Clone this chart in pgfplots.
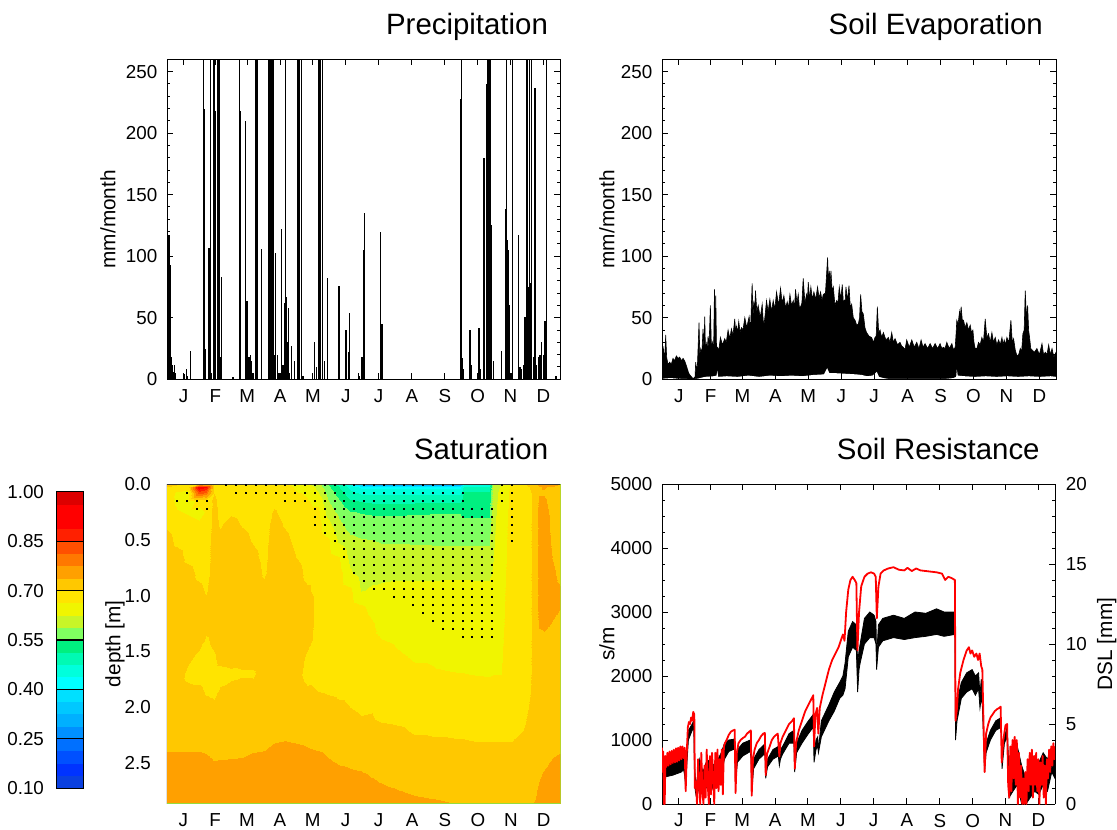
\documentclass[border=0pt]{standalone}
\usepackage{fontspec}
\setmainfont{Liberation Sans}
\usepackage{pgfplots}
\pgfplotsset{compat=1.18}

\newcommand\ticksize{\fontsize{9.4}{11}\selectfont}
\newcommand\labsize{\fontsize{10.4}{12}\selectfont}
\newcommand\titlesize{\fontsize{14.7}{17}\selectfont}

\pgfplotsset{
  colormap={satmap}{
    rgb255=(10,64,224) rgb255=(0,51,255) rgb255=(0,80,255) rgb255=(0,112,255)
    rgb255=(0,144,255) rgb255=(0,176,255) rgb255=(0,200,255) rgb255=(0,224,255)
    rgb255=(0,255,255) rgb255=(0,255,220) rgb255=(0,250,180) rgb255=(0,240,128)
    rgb255=(128,255,96) rgb255=(200,245,40) rgb255=(240,245,0) rgb255=(255,228,0)
    rgb255=(255,200,0) rgb255=(255,160,0) rgb255=(255,120,0) rgb255=(255,80,0)
    rgb255=(255,32,0) rgb255=(255,0,0) rgb255=(255,0,0) rgb255=(221,0,0)},
  panel/.style={
    scale only axis,
    xmin=0, xmax=365,
    xtick={15.5,45,74.5,105,135.5,166,196.5,227.5,258,288.5,319,349.5},
    xticklabels={J,F,M,A,M,J,J,A,S,O,N,D},
    tick align=inside,
    major tick length=3pt,
    minor tick length=1.7pt,
    tick style={black, line width=0.5pt},
    axis line style={black, line width=0.5pt},
    tick label style={font=\ticksize},
    xticklabel style={inner sep=0.5pt, yshift=-4.3pt},
    yticklabel style={xshift=-1.3pt},
    /pgf/number format/assume math mode=true,
    /pgf/number format/1000 sep={},
  },
  ylab/.style={every axis y label/.style={at={(axis description cs:0,0.5)}, xshift=-#1, rotate=90, anchor=center, font=\labsize}},
  ttl/.style={every axis title/.style={at={(axis description cs:1,1)}, anchor=base east, inner sep=0pt, xshift=-#1, yshift=12.2pt, font=\titlesize}},
}

\begin{document}
\begin{tikzpicture}
\useasboundingbox (0,0) rectangle (558.5pt,414.5pt);

% ---------------- Precipitation ----------------
\begin{axis}[panel, at={(83.5pt,224.85pt)}, anchor=south west,
  width=196.5pt, height=160pt,
  ymin=0, ymax=260, ytick={0,50,...,250}, minor y tick num=4,
  ylabel={mm/month}, ylab=29.5pt,
  title={Precipitation}, ttl=5.85pt, axis on top]
\addplot[ycomb, black, line width=0.65pt] coordinates {
(0.3,15) (0.9,18) (1.9,117) (2.8,20) (3.4,93) (4.3,18) (5.3,12) (6.2,6) (7.1,12) (8.1,5)
(15.8,4) (18,8) (19.2,3) (22,23) (34.1,300) (34.7,220) (35.9,25) (38.4,66) (39,107)
(40.3,300) (41.2,5) (43.4,300) (44.3,300) (45.2,218) (46.8,300) (47.4,300) (48.3,300)
(49.6,18) (50.8,83) (61.4,2) (67.2,300) (68.2,218) (72.8,210) (73.4,15) (74.4,64)
(76.2,18) (77.5,20) (78.7,15) (80,5) (82.1,300) (83.1,300) (83.7,300) (87.7,106)
(94.8,300) (95.8,300) (96.7,300) (97.6,300) (98.5,300) (99.2,127) (100.4,20) (101,103)
(102.3,20) (104.1,5) (106.3,122) (107.8,12) (109.1,62) (110.3,300) (111.3,67) (112.2,30)
(113.1,58) (114,5) (115.6,27) (118.7,15) (120.9,300) (121.8,300) (122.7,300) (125.2,300)
(126.4,3) (137.3,30) (138.8,10) (141.3,300) (142.5,300) (144.1,300) (146,15) (149.1,82)
(159.6,76) (165.5,40) (166.7,40) (168.3,22) (169.8,54) (177.6,5) (179.1,3) (181,18)
(182.2,105) (183.5,135) (198.3,120) (199.6,45) (227,3) (258,3) (272.7,228) (273.6,300)
(274.3,17) (275.2,8) (281.4,40) (282.3,12) (289.8,42) (290.7,8) (294.4,180) (296.9,240)
(297.8,300) (298.7,300) (299.7,300) (300.6,300) (301.5,125) (303.1,15) (310.8,23)
(314.5,138) (315.1,300) (316,113) (317,105) (317.9,60) (320.1,5) (321,300) (326.3,117)
(327.8,10) (329.4,8) (330.9,12) (332.5,51) (334.1,300) (335,300) (336,75) (336.9,300)
(337.8,78) (338.7,300) (340.2,18) (341.8,237) (343.4,12) (344.9,18) (346.5,20) (348,30)
(349.6,20) (351.1,47) (352.7,300) (361.3,3)
};
\end{axis}

% ---------------- Soil evaporation ----------------
\begin{axis}[panel, at={(331pt,224.85pt)}, anchor=south west,
  width=197pt, height=160pt,
  ymin=0, ymax=260, ytick={0,50,...,250}, minor y tick num=4,
  ylabel={mm/month}, ylab=27.5pt,
  title={Soil Evaporation}, ttl=6.4pt, axis on top]
\addplot[black, fill=black, line width=0.3pt] coordinates {
(0,30) (0.9,22) (1.5,25) (2.5,14) (3.4,36) (4.3,18) (5.5,12) (7.1,14) (8.5,12) (10.2,17)
(11.5,15) (13.3,19) (15,17) (16.4,18) (18,15) (19.5,17) (21,15) (22.6,11) (24.7,5) (26.3,3)
(28.8,0.5) (30.6,2) (31.2,14) (32,8) (32.8,11) (34.3,46) (35,20) (35.9,25) (37,22) (38,41)
(38.8,25) (39.6,51) (40.3,22) (41.1,29) (42,24) (42.7,35) (43.5,25) (44.8,60) (45.8,24)
(46.7,30) (47.8,24) (48.6,73) (49.2,30) (49.8,68) (50.5,25) (51.3,26) (52.7,24) (54.1,34)
(56,28) (58.1,33) (59.5,30) (61.2,40) (62.8,33) (64.3,41) (65.8,36) (67.4,49) (68.2,38)
(69,43) (70,38) (71.1,47) (72.3,38) (73.6,42) (75,40) (76.7,50) (78.5,42) (80.7,51) (82,40)
(83.5,78) (84.3,50) (85.1,64) (85.8,52) (86.6,72) (87.8,55) (89.1,60) (91,50) (92.8,61)
(93.7,48) (94.6,45) (95.5,52) (96.8,64) (98.3,55) (99.9,65) (101.5,55) (103,64) (104.5,57)
(106.1,71) (108,60) (109.8,74) (111.3,62) (112.9,68) (114.5,58) (116,63) (117.2,58)
(118.5,69) (120,60) (121.6,64) (122.7,58) (123.7,73) (125,62) (126.2,69) (127.3,58)
(128.4,59) (129.6,62) (130.8,82) (132.4,62) (133.9,69) (134.7,64) (135.5,79) (136.7,65)
(137.9,75) (139.3,65) (140.7,71) (142.4,65) (144.1,75) (145.5,66) (146.9,71) (148.2,64)
(149.4,69) (151.4,70) (153.4,99) (154.2,80) (155,88) (155.7,78) (156.5,88) (157.6,72)
(158.7,75) (160.2,60) (161.8,64) (163,62) (164.2,75) (165.6,65) (167,77) (168,62) (168.9,64)
(169.6,62) (170.4,75) (171.8,64) (173.2,76) (174.5,58) (175.7,61) (177.2,50) (178.8,48)
(180.3,44) (181.9,45) (183,50) (184,69) (185.2,55) (186.5,53) (188,42) (189.5,38)
(191.8,35) (194.2,34) (195.8,30) (197.3,34) (198.4,35) (199.5,59) (200.7,38) (202,40)
(203.5,34) (205.1,38) (207.4,32) (209.7,34) (211.2,30) (212.8,38) (214.3,30) (215.9,33)
(218.2,28) (220.5,30) (222,27) (223.6,26) (225.1,24) (226.7,32) (229,26) (231.4,32)
(233.7,26) (236,30) (238,25) (240,32) (241.8,26) (243.7,29) (246,25) (248.4,29) (250.7,25)
(253,29) (255.3,25) (257.6,29) (259.2,25) (260.7,26) (262.2,25) (263.8,30) (266.1,25)
(268.5,29) (270,24) (271.6,26) (272.3,35) (273.1,48) (274.3,45) (275.6,55) (276.3,50)
(277.1,59) (278.2,48) (279.3,48) (280.8,42) (282.4,46) (283.9,40) (285.5,44) (286.7,38)
(288,40) (289,30) (290.1,25) (291.7,25) (293.2,30) (294.7,28) (296.3,34) (297.8,30)
(299.4,49) (300.9,34) (302.5,37) (304,30) (305.6,38) (307.1,30) (308.7,34) (310.2,28)
(311.8,32) (313.3,28) (314.9,34) (316,28) (317,32) (318.2,28) (319.5,34) (321.3,30)
(323.2,48) (324.5,30) (325.7,33) (327.2,24) (328.8,19) (330.4,20) (331.9,25) (333.1,22)
(334.3,37) (335.5,40) (336.5,72) (337.6,50) (338.7,60) (339.6,40) (340.5,34) (341.6,25)
(342.7,24) (345,22) (347.3,25) (349.6,20) (352,29) (353.5,20) (355.1,22) (356.6,20)
(358.2,28) (359.7,20) (361.3,25) (363,18) (365,22)
} \closedcycle;
\addplot[draw=none, fill=white] coordinates {
(0,0.5) (8,1) (15,0.5) (22,0.3) (28,0) (33,0.5) (40,2) (48,2.5) (50.5,3) (51.3,7) (52,2)
(60,2.5) (70,2) (80,3) (90,2) (100,3) (110,2.5) (120,3) (130,2.5) (140,3.5) (150,4) (153,9)
(155,5) (160,5) (170,4.5) (180,4) (185,3.5) (190,2.5) (195,3) (199,6) (201,2) (205,1)
(210,0.3) (240,0.3) (262,0.3) (270,1) (272.5,2) (273.1,8) (274,3) (280,2.5) (290,2)
(300,2.5) (310,2) (320,2.5) (330,2) (340,2.5) (350,2) (360,2.5) (365,2)
} \closedcycle;
\end{axis}

% ---------------- Saturation ----------------
\begin{axis}[panel, at={(83.25pt,12.75pt)}, anchor=south west,
  width=197pt, height=159.75pt,
  ymin=0, ymax=2.86, y dir=reverse, ytick={0,0.5,1,1.5,2,2.5},
  yticklabel style={xshift=-3pt, /pgf/number format/.cd, fixed, fixed zerofill, precision=1},
  major tick length=0pt, axis line style={draw=none},
  ylabel={depth [m]}, ylab=25.8pt,
  title={Saturation}, ttl=6pt,
  colormap name=satmap, colormap access=piecewise constant,
  point meta min=0.1, point meta max=1.0]
\addplot[surf, shader=interp, mesh/ordering=y varies, point meta=explicit] coordinates {
(0,0)[0.72] (0,0.03)[0.70] (0,0.08)[0.685] (0,0.15)[0.68] (0,0.25)[0.685] (0,0.35)[0.69] (0,0.5)[0.715] (0,0.65)[0.72] (0,0.8)[0.72] (0,0.95)[0.72] (0,1.1)[0.72] (0,1.25)[0.72] (0,1.4)[0.72] (0,1.55)[0.72] (0,1.7)[0.72] (0,1.85)[0.72] (0,2.0)[0.72] (0,2.15)[0.72] (0,2.3)[0.7255] (0,2.45)[0.7455] (0,2.6)[0.758] (0,2.86)[0.76]

(10,0)[0.71] (10,0.03)[0.68] (10,0.08)[0.655] (10,0.15)[0.655] (10,0.25)[0.665] (10,0.35)[0.675] (10,0.5)[0.69] (10,0.65)[0.715] (10,0.8)[0.72] (10,0.95)[0.72] (10,1.1)[0.72] (10,1.25)[0.72] (10,1.4)[0.72] (10,1.55)[0.72] (10,1.7)[0.72] (10,1.85)[0.72] (10,2.0)[0.72] (10,2.15)[0.72] (10,2.3)[0.7255] (10,2.45)[0.7455] (10,2.6)[0.758] (10,2.86)[0.76]

(20,0)[0.70] (20,0.03)[0.68] (20,0.08)[0.65] (20,0.15)[0.65] (20,0.25)[0.66] (20,0.35)[0.67] (20,0.5)[0.68] (20,0.65)[0.69] (20,0.8)[0.715] (20,0.95)[0.72] (20,1.1)[0.72] (20,1.25)[0.72] (20,1.4)[0.72] (20,1.55)[0.71] (20,1.7)[0.69] (20,1.85)[0.71] (20,2.0)[0.72] (20,2.15)[0.72] (20,2.3)[0.7255] (20,2.45)[0.7455] (20,2.6)[0.758] (20,2.86)[0.76]

(30,0)[0.71] (30,0.03)[0.92] (30,0.08)[0.83] (30,0.15)[0.67] (30,0.25)[0.655] (30,0.35)[0.665] (30,0.5)[0.675] (30,0.65)[0.68] (30,0.8)[0.69] (30,0.95)[0.71] (30,1.1)[0.72] (30,1.25)[0.72] (30,1.4)[0.715] (30,1.55)[0.69] (30,1.7)[0.685] (30,1.85)[0.71] (30,2.0)[0.72] (30,2.15)[0.72] (30,2.3)[0.725] (30,2.45)[0.745] (30,2.6)[0.758] (30,2.86)[0.76]

(37,0)[0.70] (37,0.03)[0.89] (37,0.08)[0.80] (37,0.15)[0.68] (37,0.25)[0.665] (37,0.35)[0.67] (37,0.5)[0.675] (37,0.65)[0.68] (37,0.8)[0.685] (37,0.95)[0.695] (37,1.1)[0.715] (37,1.25)[0.715] (37,1.4)[0.695] (37,1.55)[0.685] (37,1.7)[0.68] (37,1.85)[0.695] (37,2.0)[0.715] (37,2.15)[0.72] (37,2.3)[0.725] (37,2.45)[0.742] (37,2.6)[0.755] (37,2.86)[0.76]

(44,0)[0.69] (44,0.03)[0.70] (44,0.08)[0.70] (44,0.15)[0.71] (44,0.25)[0.715] (44,0.35)[0.715] (44,0.5)[0.72] (44,0.65)[0.72] (44,0.8)[0.72] (44,0.95)[0.72] (44,1.1)[0.72] (44,1.25)[0.72] (44,1.4)[0.71] (44,1.55)[0.695] (44,1.7)[0.685] (44,1.85)[0.69] (44,2.0)[0.71] (44,2.15)[0.72] (44,2.3)[0.72] (44,2.45)[0.735] (44,2.6)[0.75] (44,2.86)[0.758]

(50,0)[0.69] (50,0.03)[0.685] (50,0.08)[0.68] (50,0.15)[0.685] (50,0.25)[0.69] (50,0.35)[0.695] (50,0.5)[0.71] (50,0.65)[0.72] (50,0.8)[0.72] (50,0.95)[0.72] (50,1.1)[0.72] (50,1.25)[0.72] (50,1.4)[0.72] (50,1.55)[0.715] (50,1.7)[0.685] (50,1.85)[0.705] (50,2.0)[0.72] (50,2.15)[0.72] (50,2.3)[0.72] (50,2.45)[0.736] (50,2.6)[0.75] (50,2.86)[0.758]

(60,0)[0.69] (60,0.03)[0.685] (60,0.08)[0.685] (60,0.15)[0.69] (60,0.25)[0.695] (60,0.35)[0.71] (60,0.5)[0.72] (60,0.65)[0.72] (60,0.8)[0.72] (60,0.95)[0.72] (60,1.1)[0.72] (60,1.25)[0.72] (60,1.4)[0.72] (60,1.55)[0.72] (60,1.7)[0.69] (60,1.85)[0.715] (60,2.0)[0.72] (60,2.15)[0.72] (60,2.3)[0.72] (60,2.45)[0.737] (60,2.6)[0.75] (60,2.86)[0.758]

(70,0)[0.69] (70,0.03)[0.68] (70,0.08)[0.68] (70,0.15)[0.685] (70,0.25)[0.69] (70,0.35)[0.697] (70,0.5)[0.71] (70,0.65)[0.72] (70,0.8)[0.72] (70,0.95)[0.72] (70,1.1)[0.72] (70,1.25)[0.72] (70,1.4)[0.72] (70,1.55)[0.715] (70,1.7)[0.695] (70,1.85)[0.72] (70,2.0)[0.72] (70,2.15)[0.72] (70,2.3)[0.72] (70,2.45)[0.738] (70,2.6)[0.752] (70,2.86)[0.758]

(80,0)[0.685] (80,0.03)[0.68] (80,0.08)[0.675] (80,0.15)[0.68] (80,0.25)[0.685] (80,0.35)[0.69] (80,0.5)[0.697] (80,0.65)[0.71] (80,0.8)[0.72] (80,0.95)[0.72] (80,1.1)[0.72] (80,1.25)[0.72] (80,1.4)[0.72] (80,1.55)[0.715] (80,1.7)[0.695] (80,1.85)[0.715] (80,2.0)[0.72] (80,2.15)[0.72] (80,2.3)[0.724] (80,2.45)[0.744] (80,2.6)[0.756] (80,2.86)[0.76]

(90,0)[0.685] (90,0.03)[0.675] (90,0.08)[0.67] (90,0.15)[0.675] (90,0.25)[0.68] (90,0.35)[0.68] (90,0.5)[0.685] (90,0.65)[0.69] (90,0.8)[0.695] (90,0.95)[0.71] (90,1.1)[0.72] (90,1.25)[0.72] (90,1.4)[0.72] (90,1.55)[0.72] (90,1.7)[0.72] (90,1.85)[0.72] (90,2.0)[0.72] (90,2.15)[0.72] (90,2.3)[0.726] (90,2.45)[0.746] (90,2.6)[0.758] (90,2.86)[0.76]

(100,0)[0.685] (100,0.03)[0.68] (100,0.08)[0.68] (100,0.15)[0.69] (100,0.25)[0.705] (100,0.35)[0.715] (100,0.5)[0.72] (100,0.65)[0.72] (100,0.8)[0.72] (100,0.95)[0.72] (100,1.1)[0.72] (100,1.25)[0.72] (100,1.4)[0.72] (100,1.55)[0.72] (100,1.7)[0.72] (100,1.85)[0.72] (100,2.0)[0.72] (100,2.15)[0.72] (100,2.3)[0.735] (100,2.45)[0.755] (100,2.6)[0.76] (100,2.86)[0.76]

(110,0)[0.67] (110,0.03)[0.67] (110,0.08)[0.675] (110,0.15)[0.68] (110,0.25)[0.685] (110,0.35)[0.695] (110,0.5)[0.71] (110,0.65)[0.72] (110,0.8)[0.72] (110,0.95)[0.72] (110,1.1)[0.72] (110,1.25)[0.72] (110,1.4)[0.72] (110,1.55)[0.72] (110,1.7)[0.72] (110,1.85)[0.72] (110,2.0)[0.72] (110,2.15)[0.722] (110,2.3)[0.738] (110,2.45)[0.757] (110,2.6)[0.76] (110,2.86)[0.76]

(120,0)[0.655] (120,0.03)[0.66] (120,0.08)[0.665] (120,0.15)[0.67] (120,0.25)[0.675] (120,0.35)[0.68] (120,0.5)[0.69] (120,0.65)[0.70] (120,0.8)[0.715] (120,0.95)[0.72] (120,1.1)[0.72] (120,1.25)[0.72] (120,1.4)[0.72] (120,1.55)[0.72] (120,1.7)[0.712] (120,1.85)[0.72] (120,2.0)[0.72] (120,2.15)[0.721] (120,2.3)[0.735] (120,2.45)[0.755] (120,2.6)[0.76] (120,2.86)[0.76]

(130,0)[0.638] (130,0.03)[0.65] (130,0.08)[0.66] (130,0.15)[0.665] (130,0.25)[0.67] (130,0.35)[0.675] (130,0.5)[0.68] (130,0.65)[0.685] (130,0.8)[0.69] (130,0.95)[0.705] (130,1.1)[0.715] (130,1.25)[0.715] (130,1.4)[0.71] (130,1.55)[0.695] (130,1.7)[0.69] (130,1.85)[0.705] (130,2.0)[0.72] (130,2.15)[0.722] (130,2.3)[0.732] (130,2.45)[0.748] (130,2.6)[0.758] (130,2.86)[0.76]

(140,0)[0.60] (140,0.03)[0.615] (140,0.08)[0.628] (140,0.15)[0.655] (140,0.25)[0.67] (140,0.35)[0.675] (140,0.5)[0.68] (140,0.65)[0.685] (140,0.8)[0.69] (140,0.95)[0.69] (140,1.1)[0.69] (140,1.25)[0.69] (140,1.4)[0.69] (140,1.55)[0.69] (140,1.7)[0.692] (140,1.85)[0.70] (140,2.0)[0.715] (140,2.15)[0.72] (140,2.3)[0.728] (140,2.45)[0.745] (140,2.6)[0.757] (140,2.86)[0.76]

(150,0)[0.548] (150,0.03)[0.56] (150,0.08)[0.575] (150,0.15)[0.59] (150,0.25)[0.61] (150,0.35)[0.635] (150,0.5)[0.668] (150,0.65)[0.675] (150,0.8)[0.68] (150,0.95)[0.685] (150,1.1)[0.69] (150,1.25)[0.69] (150,1.4)[0.69] (150,1.55)[0.69] (150,1.7)[0.693] (150,1.85)[0.697] (150,2.0)[0.71] (150,2.15)[0.72] (150,2.3)[0.725] (150,2.45)[0.738] (150,2.6)[0.75] (150,2.86)[0.758]

(160,0)[0.50] (160,0.03)[0.513] (160,0.08)[0.535] (160,0.15)[0.555] (160,0.25)[0.578] (160,0.35)[0.595] (160,0.5)[0.618] (160,0.65)[0.663] (160,0.8)[0.675] (160,0.95)[0.68] (160,1.1)[0.685] (160,1.25)[0.688] (160,1.4)[0.69] (160,1.55)[0.69] (160,1.7)[0.692] (160,1.85)[0.695] (160,2.0)[0.704] (160,2.15)[0.715] (160,2.3)[0.72] (160,2.45)[0.732] (160,2.6)[0.745] (160,2.86)[0.757]

(170,0)[0.45] (170,0.03)[0.465] (170,0.08)[0.49] (170,0.15)[0.52] (170,0.25)[0.553] (170,0.35)[0.57] (170,0.5)[0.597] (170,0.65)[0.615] (170,0.8)[0.63] (170,0.95)[0.67] (170,1.1)[0.68] (170,1.25)[0.685] (170,1.4)[0.688] (170,1.55)[0.69] (170,1.7)[0.692] (170,1.85)[0.695] (170,2.0)[0.70] (170,2.15)[0.707] (170,2.3)[0.715] (170,2.45)[0.73] (170,2.6)[0.742] (170,2.86)[0.752]

(180,0)[0.33] (180,0.03)[0.43] (180,0.08)[0.47] (180,0.15)[0.51] (180,0.25)[0.548] (180,0.35)[0.565] (180,0.5)[0.59] (180,0.65)[0.603] (180,0.8)[0.612] (180,0.95)[0.622] (180,1.1)[0.668] (180,1.25)[0.675] (180,1.4)[0.68] (180,1.55)[0.685] (180,1.7)[0.69] (180,1.85)[0.693] (180,2.0)[0.697] (180,2.15)[0.703] (180,2.3)[0.71] (180,2.45)[0.727] (180,2.6)[0.74] (180,2.86)[0.75]

(190,0)[0.24] (190,0.03)[0.43] (190,0.08)[0.47] (190,0.15)[0.505] (190,0.25)[0.545] (190,0.35)[0.563] (190,0.5)[0.588] (190,0.65)[0.60] (190,0.8)[0.615] (190,0.95)[0.63] (190,1.1)[0.655] (190,1.25)[0.665] (190,1.4)[0.668] (190,1.55)[0.675] (190,1.7)[0.68] (190,1.85)[0.685] (190,2.0)[0.698] (190,2.15)[0.704] (190,2.3)[0.708] (190,2.45)[0.722] (190,2.6)[0.736] (190,2.86)[0.75]

(200,0)[0.24] (200,0.03)[0.43] (200,0.08)[0.47] (200,0.15)[0.505] (200,0.25)[0.545] (200,0.35)[0.562] (200,0.5)[0.585] (200,0.65)[0.598] (200,0.8)[0.615] (200,0.95)[0.633] (200,1.1)[0.645] (200,1.25)[0.655] (200,1.4)[0.663] (200,1.55)[0.67] (200,1.7)[0.677] (200,1.85)[0.683] (200,2.0)[0.69] (200,2.15)[0.701] (200,2.3)[0.705] (200,2.45)[0.713] (200,2.6)[0.733] (200,2.86)[0.748]

(210,0)[0.24] (210,0.03)[0.43] (210,0.08)[0.47] (210,0.15)[0.505] (210,0.25)[0.545] (210,0.35)[0.562] (210,0.5)[0.585] (210,0.65)[0.598] (210,0.8)[0.617] (210,0.95)[0.635] (210,1.1)[0.645] (210,1.25)[0.652] (210,1.4)[0.661] (210,1.55)[0.668] (210,1.7)[0.675] (210,1.85)[0.682] (210,2.0)[0.69] (210,2.15)[0.70] (210,2.3)[0.707] (210,2.45)[0.715] (210,2.6)[0.73] (210,2.86)[0.747]

(220,0)[0.24] (220,0.03)[0.43] (220,0.08)[0.47] (220,0.15)[0.505] (220,0.25)[0.545] (220,0.35)[0.562] (220,0.5)[0.585] (220,0.65)[0.598] (220,0.8)[0.618] (220,0.95)[0.635] (220,1.1)[0.643] (220,1.25)[0.65] (220,1.4)[0.656] (220,1.55)[0.664] (220,1.7)[0.672] (220,1.85)[0.68] (220,2.0)[0.688] (220,2.15)[0.699] (220,2.3)[0.706] (220,2.45)[0.714] (220,2.6)[0.727] (220,2.86)[0.745]

(230,0)[0.24] (230,0.03)[0.43] (230,0.08)[0.47] (230,0.15)[0.505] (230,0.25)[0.547] (230,0.35)[0.562] (230,0.5)[0.584] (230,0.65)[0.598] (230,0.8)[0.618] (230,0.95)[0.635] (230,1.1)[0.642] (230,1.25)[0.648] (230,1.4)[0.653] (230,1.55)[0.66] (230,1.7)[0.668] (230,1.85)[0.677] (230,2.0)[0.686] (230,2.15)[0.695] (230,2.3)[0.703] (230,2.45)[0.711] (230,2.6)[0.724] (230,2.86)[0.743]

(240,0)[0.24] (240,0.03)[0.43] (240,0.08)[0.47] (240,0.15)[0.505] (240,0.25)[0.547] (240,0.35)[0.562] (240,0.5)[0.584] (240,0.65)[0.598] (240,0.8)[0.618] (240,0.95)[0.635] (240,1.1)[0.642] (240,1.25)[0.648] (240,1.4)[0.653] (240,1.55)[0.66] (240,1.7)[0.668] (240,1.85)[0.677] (240,2.0)[0.686] (240,2.15)[0.695] (240,2.3)[0.703] (240,2.45)[0.711] (240,2.6)[0.722] (240,2.86)[0.742]

(250,0)[0.24] (250,0.03)[0.43] (250,0.08)[0.47] (250,0.15)[0.505] (250,0.25)[0.548] (250,0.35)[0.56] (250,0.5)[0.583] (250,0.65)[0.598] (250,0.8)[0.618] (250,0.95)[0.634] (250,1.1)[0.641] (250,1.25)[0.647] (250,1.4)[0.652] (250,1.55)[0.658] (250,1.7)[0.665] (250,1.85)[0.675] (250,2.0)[0.684] (250,2.15)[0.694] (250,2.3)[0.702] (250,2.45)[0.71] (250,2.6)[0.72] (250,2.86)[0.741]

(260,0)[0.24] (260,0.03)[0.43] (260,0.08)[0.47] (260,0.15)[0.505] (260,0.25)[0.548] (260,0.35)[0.56] (260,0.5)[0.583] (260,0.65)[0.598] (260,0.8)[0.619] (260,0.95)[0.634] (260,1.1)[0.641] (260,1.25)[0.647] (260,1.4)[0.652] (260,1.55)[0.657] (260,1.7)[0.664] (260,1.85)[0.674] (260,2.0)[0.684] (260,2.15)[0.694] (260,2.3)[0.702] (260,2.45)[0.71] (260,2.6)[0.72] (260,2.86)[0.739]

(272,0)[0.25] (272,0.03)[0.43] (272,0.08)[0.47] (272,0.15)[0.505] (272,0.25)[0.548] (272,0.35)[0.56] (272,0.5)[0.582] (272,0.65)[0.598] (272,0.8)[0.62] (272,0.95)[0.633] (272,1.1)[0.64] (272,1.25)[0.646] (272,1.4)[0.651] (272,1.55)[0.656] (272,1.7)[0.663] (272,1.85)[0.673] (272,2.0)[0.683] (272,2.15)[0.693] (272,2.3)[0.701] (272,2.45)[0.709] (272,2.6)[0.718] (272,2.86)[0.7375]

(276,0)[0.42] (276,0.03)[0.48] (276,0.08)[0.52] (276,0.15)[0.525] (276,0.25)[0.54] (276,0.35)[0.56] (276,0.5)[0.582] (276,0.65)[0.598] (276,0.8)[0.62] (276,0.95)[0.633] (276,1.1)[0.64] (276,1.25)[0.646] (276,1.4)[0.651] (276,1.55)[0.656] (276,1.7)[0.663] (276,1.85)[0.673] (276,2.0)[0.683] (276,2.15)[0.693] (276,2.3)[0.701] (276,2.45)[0.709] (276,2.6)[0.718] (276,2.86)[0.736]

(285,0)[0.42] (285,0.03)[0.48] (285,0.08)[0.52] (285,0.15)[0.525] (285,0.25)[0.54] (285,0.35)[0.56] (285,0.5)[0.582] (285,0.65)[0.598] (285,0.8)[0.62] (285,0.95)[0.632] (285,1.1)[0.639] (285,1.25)[0.645] (285,1.4)[0.65] (285,1.55)[0.655] (285,1.7)[0.662] (285,1.85)[0.672] (285,2.0)[0.682] (285,2.15)[0.692] (285,2.3)[0.70] (285,2.45)[0.708] (285,2.6)[0.716] (285,2.86)[0.733]

(299,0)[0.42] (299,0.03)[0.48] (299,0.08)[0.52] (299,0.15)[0.525] (299,0.25)[0.54] (299,0.35)[0.56] (299,0.5)[0.582] (299,0.65)[0.598] (299,0.8)[0.62] (299,0.95)[0.632] (299,1.1)[0.639] (299,1.25)[0.645] (299,1.4)[0.65] (299,1.55)[0.655] (299,1.7)[0.661] (299,1.85)[0.671] (299,2.0)[0.681] (299,2.15)[0.691] (299,2.3)[0.70] (299,2.45)[0.708] (299,2.6)[0.716] (299,2.86)[0.733]

(302,0)[0.60] (302,0.03)[0.605] (302,0.08)[0.61] (302,0.15)[0.612] (302,0.25)[0.615] (302,0.35)[0.618] (302,0.5)[0.62] (302,0.65)[0.624] (302,0.8)[0.628] (302,0.95)[0.634] (302,1.1)[0.639] (302,1.25)[0.645] (302,1.4)[0.65] (302,1.55)[0.655] (302,1.7)[0.662] (302,1.85)[0.672] (302,2.0)[0.682] (302,2.15)[0.692] (302,2.3)[0.70] (302,2.45)[0.708] (302,2.6)[0.716] (302,2.86)[0.733]

(310,0)[0.625] (310,0.03)[0.63] (310,0.08)[0.635] (310,0.15)[0.638] (310,0.25)[0.64] (310,0.35)[0.642] (310,0.5)[0.645] (310,0.65)[0.647] (310,0.8)[0.65] (310,0.95)[0.652] (310,1.1)[0.654] (310,1.25)[0.656] (310,1.4)[0.658] (310,1.55)[0.66] (310,1.7)[0.6625] (310,1.85)[0.673] (310,2.0)[0.683] (310,2.15)[0.692] (310,2.3)[0.70] (310,2.45)[0.708] (310,2.6)[0.716] (310,2.86)[0.733]

(320,0)[0.67] (320,0.03)[0.672] (320,0.08)[0.675] (320,0.15)[0.675] (320,0.25)[0.676] (320,0.35)[0.677] (320,0.5)[0.678] (320,0.65)[0.678] (320,0.8)[0.679] (320,0.95)[0.68] (320,1.1)[0.68] (320,1.25)[0.68] (320,1.4)[0.68] (320,1.55)[0.68] (320,1.7)[0.68] (320,1.85)[0.685] (320,2.0)[0.69] (320,2.15)[0.695] (320,2.3)[0.70] (320,2.45)[0.708] (320,2.6)[0.716] (320,2.86)[0.733]

(330,0)[0.68] (330,0.03)[0.685] (330,0.08)[0.685] (330,0.15)[0.685] (330,0.25)[0.685] (330,0.35)[0.685] (330,0.5)[0.685] (330,0.65)[0.685] (330,0.8)[0.685] (330,0.95)[0.685] (330,1.1)[0.685] (330,1.25)[0.685] (330,1.4)[0.685] (330,1.55)[0.685] (330,1.7)[0.685] (330,1.85)[0.688] (330,2.0)[0.692] (330,2.15)[0.697] (330,2.3)[0.705] (330,2.45)[0.712] (330,2.6)[0.72] (330,2.86)[0.735]

(340,0)[0.73] (340,0.03)[0.71] (340,0.08)[0.705] (340,0.15)[0.705] (340,0.25)[0.705] (340,0.35)[0.705] (340,0.5)[0.705] (340,0.65)[0.705] (340,0.8)[0.705] (340,0.95)[0.705] (340,1.1)[0.705] (340,1.25)[0.705] (340,1.4)[0.705] (340,1.55)[0.705] (340,1.7)[0.705] (340,1.85)[0.705] (340,2.0)[0.708] (340,2.15)[0.712] (340,2.3)[0.718] (340,2.45)[0.725] (340,2.6)[0.73] (340,2.86)[0.738]

(345,0)[0.75] (345,0.03)[0.735] (345,0.08)[0.735] (345,0.15)[0.745] (345,0.25)[0.75] (345,0.35)[0.75] (345,0.5)[0.75] (345,0.65)[0.75] (345,0.8)[0.75] (345,0.95)[0.75] (345,1.1)[0.75] (345,1.25)[0.742] (345,1.4)[0.725] (345,1.55)[0.72] (345,1.7)[0.72] (345,1.85)[0.72] (345,2.0)[0.72] (345,2.15)[0.72] (345,2.3)[0.722] (345,2.45)[0.728] (345,2.6)[0.735] (345,2.86)[0.745]

(350,0)[0.78] (350,0.03)[0.74] (350,0.08)[0.735] (350,0.15)[0.742] (350,0.25)[0.748] (350,0.35)[0.75] (350,0.5)[0.75] (350,0.65)[0.752] (350,0.8)[0.755] (350,0.95)[0.755] (350,1.1)[0.752] (350,1.25)[0.745] (350,1.4)[0.73] (350,1.55)[0.722] (350,1.7)[0.722] (350,1.85)[0.722] (350,2.0)[0.722] (350,2.15)[0.722] (350,2.3)[0.724] (350,2.45)[0.73] (350,2.6)[0.74] (350,2.86)[0.752]

(358,0)[0.76] (358,0.03)[0.73] (358,0.08)[0.725] (358,0.15)[0.725] (358,0.25)[0.728] (358,0.35)[0.73] (358,0.5)[0.733] (358,0.65)[0.736] (358,0.8)[0.742] (358,0.95)[0.748] (358,1.1)[0.745] (358,1.25)[0.735] (358,1.4)[0.726] (358,1.55)[0.722] (358,1.7)[0.722] (358,1.85)[0.722] (358,2.0)[0.722] (358,2.15)[0.722] (358,2.3)[0.728] (358,2.45)[0.738] (358,2.6)[0.748] (358,2.86)[0.755]

(365,0)[0.74] (365,0.03)[0.725] (365,0.08)[0.722] (365,0.15)[0.722] (365,0.25)[0.722] (365,0.35)[0.722] (365,0.5)[0.722] (365,0.65)[0.722] (365,0.8)[0.728] (365,0.95)[0.74] (365,1.1)[0.738] (365,1.25)[0.728] (365,1.4)[0.722] (365,1.55)[0.722] (365,1.7)[0.722] (365,1.85)[0.722] (365,2.0)[0.722] (365,2.15)[0.722] (365,2.3)[0.728] (365,2.45)[0.742] (365,2.6)[0.75] (365,2.86)[0.755]
};
% stippled nodes
\addplot[only marks, mark=square*, mark size=0.26pt, black] coordinates {
(55.3,0.008) (64.4,0.008) (73.5,0.008) (82.7,0.008) (91.8,0.008) (100.9,0.008) (110.0,0.008) (119.1,0.008) (128.3,0.008) (137.4,0.008) (146.5,0.008) (155.6,0.008) (164.7,0.008) (173.9,0.008) (183.0,0.008) (192.1,0.008) (201.2,0.008) (210.3,0.008) (219.5,0.008) (228.6,0.008) (237.7,0.008) (246.8,0.008) (255.9,0.008) (265.1,0.008) (310.7,0.008) (319.8,0.008)
(18.8,0.078) (64.4,0.078) (73.5,0.078) (82.7,0.078) (91.8,0.078) (100.9,0.078) (110.0,0.078) (119.1,0.078) (128.3,0.078) (137.4,0.078) (146.5,0.078) (155.6,0.078) (164.7,0.078) (173.9,0.078) (183.0,0.078) (192.1,0.078) (201.2,0.078) (210.3,0.078) (219.5,0.078) (228.6,0.078) (237.7,0.078) (246.8,0.078) (255.9,0.078) (265.1,0.078) (274.2,0.078) (310.7,0.078) (319.8,0.078)
(9.7,0.149) (18.8,0.149) (27.9,0.149) (37.1,0.149) (110.0,0.149) (119.1,0.149) (128.3,0.149) (137.4,0.149) (146.5,0.149) (155.6,0.149) (164.7,0.149) (173.9,0.149) (183.0,0.149) (192.1,0.149) (201.2,0.149) (210.3,0.149) (219.5,0.149) (228.6,0.149) (237.7,0.149) (246.8,0.149) (255.9,0.149) (265.1,0.149) (274.2,0.149) (310.7,0.149) (319.8,0.149)
(27.9,0.221) (37.1,0.221) (137.4,0.221) (146.5,0.221) (155.6,0.221) (164.7,0.221) (173.9,0.221) (183.0,0.221) (192.1,0.221) (201.2,0.221) (210.3,0.221) (219.5,0.221) (228.6,0.221) (237.7,0.221) (246.8,0.221) (255.9,0.221) (265.1,0.221) (274.2,0.221) (283.3,0.221) (292.4,0.221) (301.5,0.221) (319.8,0.221)
(137.4,0.292) (146.5,0.292) (155.6,0.292) (164.7,0.292) (173.9,0.292) (183.0,0.292) (192.1,0.292) (201.2,0.292) (210.3,0.292) (219.5,0.292) (228.6,0.292) (237.7,0.292) (246.8,0.292) (255.9,0.292) (265.1,0.292) (274.2,0.292) (283.3,0.292) (292.4,0.292) (301.5,0.292) (319.8,0.292)
(137.4,0.364) (146.5,0.364) (155.6,0.364) (164.7,0.364) (173.9,0.364) (183.0,0.364) (192.1,0.364) (201.2,0.364) (210.3,0.364) (219.5,0.364) (228.6,0.364) (237.7,0.364) (246.8,0.364) (255.9,0.364) (265.1,0.364) (274.2,0.364) (283.3,0.364) (292.4,0.364) (301.5,0.364) (319.8,0.364)
(146.5,0.436) (155.6,0.436) (164.7,0.436) (173.9,0.436) (183.0,0.436) (192.1,0.436) (201.2,0.436) (210.3,0.436) (219.5,0.436) (228.6,0.436) (237.7,0.436) (246.8,0.436) (255.9,0.436) (265.1,0.436) (274.2,0.436) (283.3,0.436) (292.4,0.436) (301.5,0.436) (319.8,0.436)
(155.6,0.507) (164.7,0.507) (173.9,0.507) (183.0,0.507) (192.1,0.507) (201.2,0.507) (210.3,0.507) (219.5,0.507) (228.6,0.507) (237.7,0.507) (246.8,0.507) (255.9,0.507) (265.1,0.507) (274.2,0.507) (283.3,0.507) (292.4,0.507) (301.5,0.507) (319.8,0.507)
(164.7,0.579) (173.9,0.579) (183.0,0.579) (192.1,0.579) (201.2,0.579) (210.3,0.579) (219.5,0.579) (228.6,0.579) (237.7,0.579) (246.8,0.579) (255.9,0.579) (265.1,0.579) (274.2,0.579) (283.3,0.579) (292.4,0.579) (301.5,0.579)
(164.7,0.650) (173.9,0.650) (183.0,0.650) (192.1,0.650) (201.2,0.650) (210.3,0.650) (219.5,0.650) (228.6,0.650) (237.7,0.650) (246.8,0.650) (255.9,0.650) (265.1,0.650) (274.2,0.650) (283.3,0.650) (292.4,0.650) (301.5,0.650)
(173.9,0.722) (183.0,0.722) (192.1,0.722) (201.2,0.722) (210.3,0.722) (219.5,0.722) (228.6,0.722) (237.7,0.722) (246.8,0.722) (255.9,0.722) (265.1,0.722) (274.2,0.722) (283.3,0.722) (292.4,0.722) (301.5,0.722)
(173.9,0.794) (183.0,0.794) (192.1,0.794) (201.2,0.794) (210.3,0.794) (219.5,0.794) (228.6,0.794) (237.7,0.794) (246.8,0.794) (255.9,0.794) (265.1,0.794) (274.2,0.794) (283.3,0.794) (292.4,0.794) (301.5,0.794)
(183.0,0.865) (192.1,0.865) (201.2,0.865) (210.3,0.865) (219.5,0.865) (228.6,0.865) (237.7,0.865) (246.8,0.865) (255.9,0.865) (265.1,0.865) (274.2,0.865) (283.3,0.865) (292.4,0.865) (301.5,0.865)
(192.1,0.937) (201.2,0.937) (210.3,0.937) (219.5,0.937) (228.6,0.937) (237.7,0.937) (246.8,0.937) (255.9,0.937) (265.1,0.937) (274.2,0.937) (283.3,0.937) (292.4,0.937) (301.5,0.937)
(210.3,1.008) (219.5,1.008) (228.6,1.008) (237.7,1.008) (246.8,1.008) (255.9,1.008) (265.1,1.008) (274.2,1.008) (283.3,1.008) (292.4,1.008) (301.5,1.008)
(228.6,1.080) (237.7,1.080) (246.8,1.080) (255.9,1.080) (265.1,1.080) (274.2,1.080) (283.3,1.080) (292.4,1.080) (301.5,1.080)
(237.7,1.151) (246.8,1.151) (255.9,1.151) (265.1,1.151) (274.2,1.151) (283.3,1.151) (292.4,1.151) (301.5,1.151)
(246.8,1.223) (255.9,1.223) (265.1,1.223) (274.2,1.223) (283.3,1.223) (292.4,1.223) (301.5,1.223)
(255.9,1.295) (265.1,1.295) (274.2,1.295) (283.3,1.295) (292.4,1.295) (301.5,1.295)
(274.2,1.366) (283.3,1.366) (292.4,1.366) (301.5,1.366)
};
\draw[black!80, line width=0.6pt] (axis description cs:0,1) -- (axis description cs:1,1);
\draw[color={rgb,255:red,150;green,220;blue,60}, line width=0.4pt] (axis description cs:1,1) -- (axis description cs:1,0) -- (axis description cs:0,0);
\draw[black!35, line width=0.4pt] (axis description cs:0,0) -- (axis description cs:0,1);
\end{axis}

% ---------------- Colour scale ----------------
\begin{axis}[at={(28.25pt,20.35pt)}, anchor=south west, scale only axis,
  width=13.4pt, height=148.3pt,
  xmin=0, xmax=1, ymin=0.1, ymax=1.0, xtick=\empty,
  ytick={0.10,0.25,0.40,0.55,0.70,0.85,1.00},
  major tick length=0pt,
  tick label style={font=\ticksize},
  yticklabel style={xshift=-2.75pt, /pgf/number format/.cd, fixed, fixed zerofill, precision=2, assume math mode=true},
  ymajorgrids, grid style={black, line width=0.6pt},
  axis line style={black, line width=0.6pt}, axis on top,
  colormap name=satmap, colormap access=piecewise constant,
  point meta min=0.1, point meta max=1.0]
\addplot[surf, shader=interp, mesh/ordering=y varies, point meta=explicit] coordinates {
(0,0.1)[0.1] (0,1.0)[1.0]

(1,0.1)[0.1] (1,1.0)[1.0]
};
\end{axis}

% ---------------- Soil resistance ----------------
\begin{axis}[panel, at={(331pt,12.5pt)}, anchor=south west,
  width=196.5pt, height=160pt,
  ymin=0, ymax=5000, ytick={0,1000,...,5000}, minor y tick num=3,
  axis y line*=left,
  ylabel={s/m}, ylab=27.5pt,
  title={Soil Resistance}, ttl=7.5pt]
\addplot[black, fill=black, line width=0.4pt] coordinates {
(0,650) (1,600) (2,650) (10,700) (18,720) (20,760) (21,780) (22,700) (23,850) (24.5,1150)
(28,1250) (29.5,1300) (30.3,600) (31,400) (32,300) (35,700) (38,500) (41,650) (45,700)
(48,600) (52,700) (55,800) (58,950) (62,1000) (66,1010) (67.5,1020) (68.3,400) (70,850)
(75,950) (82,1000) (82.7,900) (83.3,400) (85,700) (90,850) (95,930) (95.7,900) (96.3,500)
(98,700) (103,850) (108,900) (109,750) (110,850) (112,900) (118,1100) (122.5,1150)
(123.2,600) (125,950) (130,1150) (136,1300) (140.5,1400) (141.2,750) (143,1000)
(144.6,1050) (145.3,850) (148,1300) (155,1550) (160,1750) (165,1900) (168,2000) (170,2200)
(173,2700) (177,2850) (180.5,2800) (181.7,2200) (183,2400) (184,2500) (188,2900) (193,3000)
(197,2950) (198.7,2850) (199.3,2300) (201,2800) (205,2900) (215,2950) (225,2900) (235,3000)
(245,2980) (255,3050) (262,3000) (272,3000) (272.6,1300) (274,1600) (278,1900) (283,2050)
(288,2100) (291,2000) (294,2050) (295.3,1700) (296.5,1950) (297.5,1800) (299.6,600)
(301,950) (305,1150) (310,1300) (315,1350) (315.8,650) (318,1050) (320.5,1200) (322.3,500)
(326,700) (330,900) (334,600) (338,400) (342,700) (346,750) (350,650) (354,800) (358,700)
(362,900) (365,850)
(365,400) (362,500) (358,200) (354,300) (350,150) (346,200) (342,100) (338,0) (334,0)
(330,300) (326,200) (322.3,100) (320.5,1050) (318,950) (315.8,550) (315,1200) (310,1150)
(305,1000) (301,800) (299.6,500) (297.5,1550) (296.5,1650) (295.3,1500) (294,1800)
(291,1700) (288,1800) (283,1750) (278,1650) (274,1300) (272.6,1000) (272,2650) (262,2620)
(255,2650) (245,2620) (235,2600) (225,2570) (215,2600) (205,2550) (201,2450) (199.3,2100)
(198.7,2500) (197,2600) (193,2600) (188,2500) (184,2200) (183,2100) (181.7,1750)
(180.5,2400) (177,2450) (173,2300) (170,1800) (168,1700) (165,1650) (160,1450) (155,1300)
(148,1050) (145.3,800) (144.6,900) (143,850) (141.2,650) (140.5,1200) (136,1100)
(130,950) (125,800) (123.2,500) (122.5,950) (118,950) (112,780) (110,700) (109,600)
(108,750) (103,700) (98,580) (96.3,400) (95.7,750) (95,780) (90,700) (85,550) (83.3,150)
(82.7,700) (82,820) (75,750) (70,650) (68.3,300) (67.5,860) (66,850) (62,820) (58,700)
(55,450) (52,350) (48,200) (45,350) (41,250) (38,150) (35,300) (32,100) (31,200) (30.3,300)
(29.5,1180) (28,1150) (24.5,1000) (23,600) (22,250) (21,450) (20,540) (18,500) (10,450)
(2,420) (1,150) (0,400)
} -- cycle;
\end{axis}
\begin{axis}[panel, at={(331pt,12.5pt)}, anchor=south west,
  width=196.5pt, height=160pt,
  ymin=0, ymax=20, ytick={0,5,...,20}, minor y tick num=4,
  axis y line*=right, axis x line=none,
  yticklabel style={xshift=3.2pt},
  every axis y label/.style={at={(axis description cs:1,0.5)}, xshift=25.85pt, rotate=90, anchor=center, font=\labsize},
  ylabel={DSL [mm]}]
\addplot[red, line width=0.9pt, line join=round] coordinates {
(0,3.52) (0.6,2.0) (1.2,3.28) (1.8,0) (2.5,0) (3.2,3.0) (4,2.32) (5,3.2) (6,2.4) (7,3.28)
(8,2.48) (9,3.32) (10,2.56) (11,3.4) (12,2.6) (13,3.48) (14,2.64) (15,3.52) (16,2.72)
(17,3.6) (18,2.8) (19,3.6) (20,2.88) (21,3.52) (22,0.8) (23,3.2) (24,4.8) (25,5.12) (26,5.0)
(27,5.4) (28,5.2) (29,5.76) (30,5.6) (30.5,1.0) (31.5,1.4) (32.5,0) (33.5,2.8) (34.5,1.2)
(35.5,0) (36.5,3.2) (37.5,0.8) (38.5,0) (39.5,2.4) (40.5,0.4) (41.5,3.4) (42.5,1.2)
(43.5,0) (44.5,3.0) (45.5,0.6) (46.5,3.2) (47.5,1.6) (48.5,0) (49.5,3.2) (50.5,1.0)
(51.5,3.4) (52.5,0.8) (53.5,2.8) (54.5,1.2) (55.5,3.4) (56.5,0.6) (57.5,3.6) (58.5,3.8)
(60,4.0) (62,4.32) (64,4.52) (66,4.6) (67.5,4.64) (68.3,0.68) (69.5,3.2) (71,3.8) (73,4.0)
(75,4.12) (77,4.2) (79,4.4) (81,4.52) (82.5,4.6) (83.3,0.52) (84.5,2.8) (86,3.4) (88,3.8)
(90,4.0) (92,4.24) (94,4.4) (95.5,4.44) (96.3,1.8) (97.5,3.12) (100,3.6) (102,4.0) (104,4.2)
(106,4.32) (107.5,4.4) (109,2.96) (110,3.8) (112,4.2) (115,4.6) (118,5.0) (121,5.2)
(122.5,5.36) (123.3,2.2) (124.5,3.8) (127,4.6) (130,5.2) (133,5.8) (136,6.2) (139,6.6)
(140.5,6.8) (141.2,3.6) (142.5,5.6) (144,6.0) (145.2,4.4) (146.5,6.0) (149,6.8) (152,7.6)
(155,8.4) (158,9.0) (161,9.4) (164,9.8) (166,10.2) (168,10.6) (169.5,10.2) (171,12.0)
(173,13.4) (175,14.0) (177,14.2) (179,14.0) (180.5,13.8) (181.5,9.6) (183,12.0) (185,13.6)
(188,14.2) (191,14.4) (194,14.48) (197,14.4) (198.5,14.2) (199.5,11.6) (201,13.6)
(203,14.4) (206,14.6) (210,14.72) (215,14.8) (220,14.64) (225,14.6) (228,14.76) (232,14.56)
(236,14.72) (240,14.6) (245,14.56) (250,14.52) (255,14.48) (260,14.4) (263,14.0) (266,14.2)
(269,14.12) (272,14.0) (272.6,5.2) (274,6.0) (275,7.2) (277,8.2) (280,9.0) (283,9.6)
(285,9.8) (286.5,9.4) (288,9.6) (290,9.2) (292,9.4) (293.5,9.0) (295,9.4) (296.5,8.6)
(297.5,8.4) (299.6,2.0) (301,4.4) (303,5.0) (305,5.4) (307,5.6) (309,5.8) (311,5.92)
(313,6.0) (314.5,6.08) (315.5,2.6) (317,4.0) (319,4.92) (320.5,5.0) (321.5,1.2) (322.5,0.4)
(323.5,3.6) (324.5,0.8) (325.5,4.0) (326.5,1.6) (327.5,4.2) (328.5,1.2) (329.5,4.0)
(330.5,0) (331.5,3.2) (332.5,0.4) (333.5,2.4) (334.5,0) (335.5,1.6) (336.5,0) (337.5,2.0)
(338.5,0) (339.5,2.8) (340.5,0.8) (341.5,3.2) (342.5,1.2) (343.5,3.4) (344.5,0.4)
(345.5,3.0) (346.5,1.2) (347.5,3.2) (348.5,0.8) (349.5,2.8) (350.5,0) (351.5,2.6)
(352.5,1.2) (353.5,3.0) (354.5,0.4) (355.5,2.4) (356.5,0) (357.5,2.8) (358.5,1.6)
(359.5,3.4) (360.5,2.0) (361.5,3.6) (362.5,2.4) (363.5,3.8) (364.5,2.8) (365,3.6)
};
\end{axis}
\end{tikzpicture}
\end{document}
